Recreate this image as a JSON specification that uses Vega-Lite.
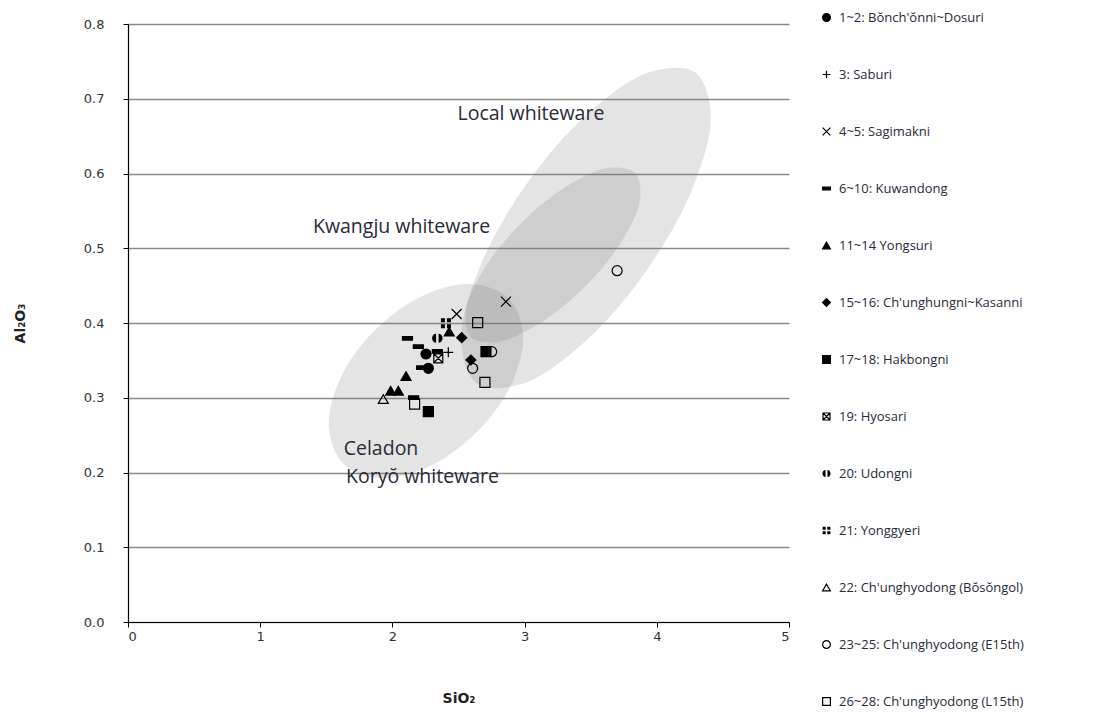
{
  "$schema": "https://vega.github.io/schema/vega-lite/v6.json",
  "autosize": {"type": "none"},
  "width": 661,
  "height": 598,
  "padding": {"left": 128, "top": 24, "right": 311, "bottom": 90},
  "background": "white",
  "config": {"view": {"stroke": null}},
  "datasets": {
    "ellipses": [
      {"g": "a_local", "i": 1, "x": 4.289, "y": 0.7353},
      {"g": "a_local", "i": 2, "x": 4.408, "y": 0.6791},
      {"g": "a_local", "i": 3, "x": 4.274, "y": 0.5819},
      {"g": "a_local", "i": 4, "x": 3.923, "y": 0.4704},
      {"g": "a_local", "i": 5, "x": 3.449, "y": 0.3738},
      {"g": "a_local", "i": 6, "x": 2.980, "y": 0.3184},
      {"g": "a_local", "i": 7, "x": 2.640, "y": 0.3189},
      {"g": "a_local", "i": 8, "x": 2.521, "y": 0.3751},
      {"g": "a_local", "i": 9, "x": 2.655, "y": 0.4722},
      {"g": "a_local", "i": 10, "x": 3.006, "y": 0.5838},
      {"g": "a_local", "i": 11, "x": 3.480, "y": 0.6804},
      {"g": "a_local", "i": 12, "x": 3.949, "y": 0.7358},
      {"g": "b_kwangju", "i": 1, "x": 3.835, "y": 0.6007},
      {"g": "b_kwangju", "i": 2, "x": 3.873, "y": 0.5648},
      {"g": "b_kwangju", "i": 3, "x": 3.734, "y": 0.5089},
      {"g": "b_kwangju", "i": 4, "x": 3.455, "y": 0.4484},
      {"g": "b_kwangju", "i": 5, "x": 3.113, "y": 0.3992},
      {"g": "b_kwangju", "i": 6, "x": 2.797, "y": 0.3746},
      {"g": "b_kwangju", "i": 7, "x": 2.595, "y": 0.3813},
      {"g": "b_kwangju", "i": 8, "x": 2.557, "y": 0.4171},
      {"g": "b_kwangju", "i": 9, "x": 2.696, "y": 0.4730},
      {"g": "b_kwangju", "i": 10, "x": 2.974, "y": 0.5335},
      {"g": "b_kwangju", "i": 11, "x": 3.316, "y": 0.5827},
      {"g": "b_kwangju", "i": 12, "x": 3.632, "y": 0.6074},
      {"g": "c_celadon", "i": 1, "x": 2.880, "y": 0.4330},
      {"g": "c_celadon", "i": 2, "x": 2.989, "y": 0.3842},
      {"g": "c_celadon", "i": 3, "x": 2.901, "y": 0.3187},
      {"g": "c_celadon", "i": 4, "x": 2.639, "y": 0.2543},
      {"g": "c_celadon", "i": 5, "x": 2.275, "y": 0.2080},
      {"g": "c_celadon", "i": 6, "x": 1.905, "y": 0.1925},
      {"g": "c_celadon", "i": 7, "x": 1.629, "y": 0.2118},
      {"g": "c_celadon", "i": 8, "x": 1.520, "y": 0.2606},
      {"g": "c_celadon", "i": 9, "x": 1.607, "y": 0.3262},
      {"g": "c_celadon", "i": 10, "x": 1.869, "y": 0.3905},
      {"g": "c_celadon", "i": 11, "x": 2.233, "y": 0.4368},
      {"g": "c_celadon", "i": 12, "x": 2.604, "y": 0.4523}
    ],
    "labels": [
      {"t": "Local whiteware", "x": 3.048, "y": 0.680},
      {"t": "Kwangju whiteware", "x": 2.069, "y": 0.528},
      {"t": "Celadon", "x": 1.914, "y": 0.232},
      {"t": "Koryŏ whiteware", "x": 2.228, "y": 0.194}
    ],
    "points": [
      {"s": "1~2: Bŏnch'ŏnni~Dosuri", "x": 2.254, "y": 0.3585},
      {"s": "1~2: Bŏnch'ŏnni~Dosuri", "x": 2.272, "y": 0.3394},
      {"s": "3: Saburi", "x": 2.423, "y": 0.3608},
      {"s": "4~5: Sagimakni", "x": 2.486, "y": 0.412},
      {"s": "4~5: Sagimakni", "x": 2.859, "y": 0.4285},
      {"s": "6~10: Kuwandong", "x": 2.114, "y": 0.3795},
      {"s": "6~10: Kuwandong", "x": 2.196, "y": 0.3683},
      {"s": "6~10: Kuwandong", "x": 2.221, "y": 0.3402},
      {"s": "6~10: Kuwandong", "x": 2.161, "y": 0.3001},
      {"s": "6~10: Kuwandong", "x": 2.34, "y": 0.362},
      {"s": "11~14 Yongsuri", "x": 2.103, "y": 0.329},
      {"s": "11~14 Yongsuri", "x": 1.987, "y": 0.3094},
      {"s": "11~14 Yongsuri", "x": 2.045, "y": 0.3094},
      {"s": "11~14 Yongsuri", "x": 2.43, "y": 0.3884},
      {"s": "15~16: Ch'unghungni~Kasanni", "x": 2.524, "y": 0.3804},
      {"s": "15~16: Ch'unghungni~Kasanni", "x": 2.594, "y": 0.3505},
      {"s": "17~18: Hakbongni", "x": 2.272, "y": 0.2814},
      {"s": "17~18: Hakbongni", "x": 2.708, "y": 0.3616},
      {"s": "19: Hyosari", "x": 2.347, "y": 0.3528},
      {"s": "20: Udongni", "x": 2.34, "y": 0.3795},
      {"s": "21: Yonggyeri", "x": 2.405, "y": 0.3996},
      {"s": "22: Ch'unghyodong  (Bŏsŏngol)", "x": 1.931, "y": 0.2983},
      {"s": "23~25: Ch'unghyodong  (E15th)", "x": 2.607, "y": 0.3394},
      {"s": "23~25: Ch'unghyodong  (E15th)", "x": 2.751, "y": 0.3616},
      {"s": "23~25: Ch'unghyodong  (E15th)", "x": 3.70, "y": 0.47},
      {"s": "26~28: Ch'unghyodong  (L15th)", "x": 2.645, "y": 0.4004},
      {"s": "26~28: Ch'unghyodong  (L15th)", "x": 2.70, "y": 0.3207},
      {"s": "26~28: Ch'unghyodong  (L15th)", "x": 2.168, "y": 0.2916}
    ]
  },
  "encoding": {
    "x": {"field": "x", "type": "quantitative",
      "scale": {"domain": [0, 5], "nice": false, "zero": false},
      "axis": {"title": "SiO₂", "values": [0, 1, 2, 3, 4, 5], "grid": false,
        "domainColor": "black", "domainWidth": 1.2, "tickColor": "black", "tickSize": 5,
        "labelPadding": 3, "labelFont": "DejaVu Sans", "labelFontSize": 13, "labelColor": "#333",
        "titleFont": "DejaVu Sans", "titleFontWeight": "bold", "titleFontSize": 14, "titleColor": "#222",
        "titlePadding": 48}},
    "y": {"field": "y", "type": "quantitative",
      "scale": {"domain": [0, 0.8], "nice": false, "zero": false},
      "axis": {"title": "Al₂O₃", "values": [0, 0.1, 0.2, 0.3, 0.4, 0.5, 0.6, 0.7, 0.8], "format": ".1f",
        "grid": true, "gridColor": "#8a8a8a", "gridWidth": 1.3,
        "domainColor": "black", "domainWidth": 1.2, "tickColor": "black", "tickSize": 5,
        "labelPadding": 19, "labelFont": "DejaVu Sans", "labelFontSize": 13, "labelColor": "#333",
        "titleFont": "DejaVu Sans", "titleFontWeight": "bold", "titleFontSize": 14, "titleColor": "#222",
        "titlePadding": 56}}
  },
  "layer": [
    {
      "data": {"name": "ellipses"},
      "mark": {"type": "line", "interpolate": "catmull-rom-closed", "fill": "#7a7a7a", "fillOpacity": 0.2, "strokeWidth": 0, "stroke": null},
      "encoding": {
        "detail": {"field": "g", "type": "nominal"},
        "order": {"field": "i", "type": "quantitative"}
      }
    },
    {
      "data": {"name": "labels"},
      "mark": {"type": "text", "font": "Open Sans", "fontSize": 19.5, "color": "#2a2a3a", "baseline": "middle", "align": "center"},
      "encoding": {
        "text": {"field": "t"}
      }
    },
    {
      "data": {"name": "points"},
      "mark": {"type": "point", "size": 100, "strokeWidth": 1.2, "opacity": 1},
      "encoding": {
        "shape": {"field": "s", "type": "nominal",
          "scale": {
            "domain": ["1~2: Bŏnch'ŏnni~Dosuri", "3: Saburi", "4~5: Sagimakni", "6~10: Kuwandong", "11~14 Yongsuri", "15~16: Ch'unghungni~Kasanni", "17~18: Hakbongni", "19: Hyosari", "20: Udongni", "21: Yonggyeri", "22: Ch'unghyodong  (Bŏsŏngol)", "23~25: Ch'unghyodong  (E15th)", "26~28: Ch'unghyodong  (L15th)"],
            "range": ["circle", "M-1,0H1M0,-1V1", "M-1,-1L1,1M-1,1L1,-1", "M-1,-0.35H1V0.35H-1Z", "triangle-up", "diamond", "square", "M-0.9,-0.9H0.9V0.9H-0.9ZM-0.9,-0.9L0.9,0.9M0.9,-0.9L-0.9,0.9", "M-0.25,-0.9A0.8,0.9 0 0,0 -0.25,0.9ZM0.25,-0.9A0.8,0.9 0 0,1 0.25,0.9Z", "M-1,-1H-0.2V-0.2H-1ZM0.2,-1H1V-0.2H0.2ZM-1,0.2H-0.2V1H-1ZM0.2,0.2H1V1H0.2Z", "triangle-up", "circle", "square"]
          },
          "legend": {"title": null, "orient": "none", "legendX": 692, "legendY": -13,
            "labelFont": "Open Sans", "labelFontSize": 13, "labelColor": "#2a2a3a", "labelOffset": 6,
            "symbolSize": 60, "symbolStrokeWidth": 1.2, "rowPadding": 43, "labelLimit": 300}},
        "fill": {"field": "s", "type": "nominal",
          "scale": {
            "domain": ["1~2: Bŏnch'ŏnni~Dosuri", "3: Saburi", "4~5: Sagimakni", "6~10: Kuwandong", "11~14 Yongsuri", "15~16: Ch'unghungni~Kasanni", "17~18: Hakbongni", "19: Hyosari", "20: Udongni", "21: Yonggyeri", "22: Ch'unghyodong  (Bŏsŏngol)", "23~25: Ch'unghyodong  (E15th)", "26~28: Ch'unghyodong  (L15th)"],
            "range": ["black", "transparent", "transparent", "black", "black", "black", "black", "transparent", "black", "black", "transparent", "transparent", "transparent"]
          },
          "legend": {"title": null, "orient": "none", "legendX": 692, "legendY": -13,
            "labelFont": "Open Sans", "labelFontSize": 13, "labelColor": "#2a2a3a", "labelOffset": 6,
            "symbolSize": 60, "symbolStrokeWidth": 1.2, "rowPadding": 43, "labelLimit": 300}},
        "stroke": {"field": "s", "type": "nominal",
          "scale": {
            "domain": ["1~2: Bŏnch'ŏnni~Dosuri", "3: Saburi", "4~5: Sagimakni", "6~10: Kuwandong", "11~14 Yongsuri", "15~16: Ch'unghungni~Kasanni", "17~18: Hakbongni", "19: Hyosari", "20: Udongni", "21: Yonggyeri", "22: Ch'unghyodong  (Bŏsŏngol)", "23~25: Ch'unghyodong  (E15th)", "26~28: Ch'unghyodong  (L15th)"],
            "range": ["black", "black", "black", "black", "black", "black", "black", "black", "transparent", "transparent", "black", "black", "black"]
          },
          "legend": {"title": null, "orient": "none", "legendX": 692, "legendY": -13,
            "labelFont": "Open Sans", "labelFontSize": 13, "labelColor": "#2a2a3a", "labelOffset": 6,
            "symbolSize": 60, "symbolStrokeWidth": 1.2, "rowPadding": 43, "labelLimit": 300}}
      }
    }
  ]
}
